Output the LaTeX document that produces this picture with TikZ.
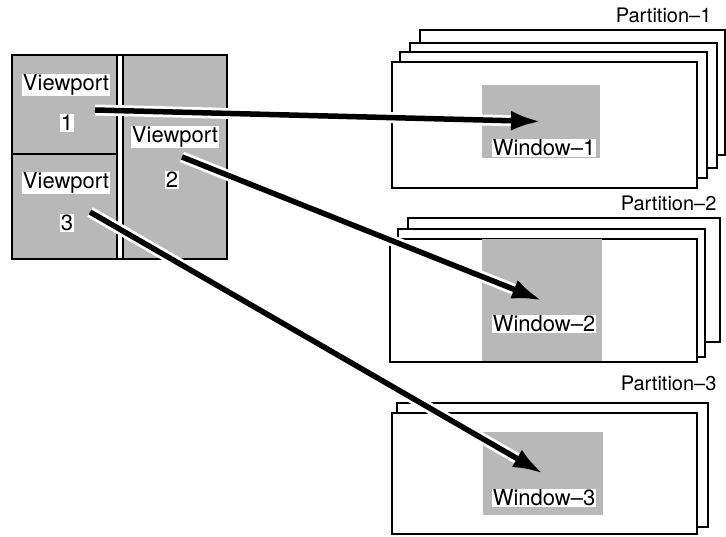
\documentclass[tikz,border=0pt]{standalone}
\usepackage{fontspec}
\setmainfont{TeX Gyre Heros}
\usetikzlibrary{arrows.meta}

\begin{document}
\begin{tikzpicture}[x=1pt, y=-1pt, >={Latex[length=30pt,width=20pt]},
    font=\fontsize{22}{26}\selectfont,
    sheet/.style={draw, line width=2.2pt, fill=white},
    shade/.style={fill=black!28},
    tag/.style={fill=white, inner sep=1pt},
    map/.style={->, line width=5.5pt, preaction={draw, white, line width=11pt, -, shorten >=30pt}}]
    \useasboundingbox (0,0) rectangle (726,537);

    % Screen with three viewports
    \fill[shade] (12,55) rectangle (117,259);
    \fill[shade] (123,55) rectangle (227,259);
    \draw[line width=2.8pt] (12,55) rectangle (227,259);
    \draw[line width=2.2pt] (117,55) -- (117,259) (123,55) -- (123,259) (12,154) -- (117,154);

    \node (vp1) [tag] at (66,85) {Viewport};
    \node (n1) [tag] at (67,123) {1};
    \node (vp2) [tag] at (175,137) {Viewport};
    \node (n2) [tag] at (172,180) {2};
    \node (vp3) [tag] at (66,183) {Viewport};
    \node (n3) [tag] at (67,223) {3};

    % Partition stacks
    \foreach \a/\b/\c/\d in {420/30/725/155, 410/43/717/168, 400/52/707/178, 392/62/697/188}
        \draw[sheet] (\a,\b) rectangle (\c,\d);
    \foreach \a/\b/\c/\d in {408/218/720/342, 398/229/705/357, 390/239/697/362}
        \draw[sheet] (\a,\b) rectangle (\c,\d);
    \foreach \a/\b/\c/\d in {397/403/708/527, 392/413/697/534}
        \draw[sheet] (\a,\b) rectangle (\c,\d);

    \node (p1) [anchor=east, font=\fontsize{20}{24}\selectfont] at (715,15) {Partition--1};
    \node (p2) [anchor=east, font=\fontsize{20}{24}\selectfont] at (720,203) {Partition--2};
    \node (p3) [anchor=east, font=\fontsize{20}{24}\selectfont] at (720,383) {Partition--3};

    % Windows
    \node (w1) [shade, minimum width=118pt, minimum height=73pt, inner sep=0pt] at (541,121.5) {};
    \node (w2) [shade, minimum width=120pt, minimum height=122pt, inner sep=0pt] at (542,300.5) {};
    \node (w3) [shade, minimum width=120pt, minimum height=83pt, inner sep=0pt] at (543,473.5) {};

    % Viewport to window mappings
    \coordinate (s1) at (95,110);
    \coordinate (s2) at (182,157);
    \coordinate (s3) at (90,212);
    \draw[map] (s1) -- (w1.center);
    \draw[map] (s2) -- (w2.center);
    \draw[map] (s3) -- (w3.center);

    \node (l1) [tag] at (544,148) {Window--1};
    \node (l2) [tag] at (544,324) {Window--2};
    \node (l3) [tag] at (544,498) {Window--3};
\end{tikzpicture}
\end{document}
